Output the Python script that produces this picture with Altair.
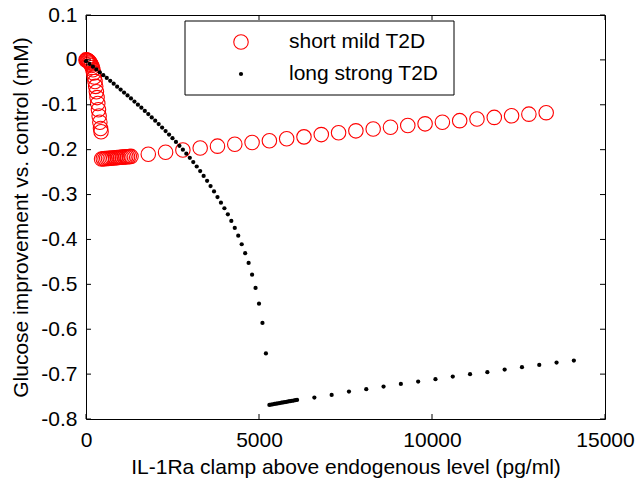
import altair as alt
import pandas as pd

# ---- data ----
red_x = [0, 20, 40, 60, 80, 100, 120, 140, 160, 180, 200, 220, 240, 260, 280, 300,
         320, 340, 360, 380, 400, 420, 435,
         450, 500, 550, 600, 650, 700, 750, 800, 850, 900, 950, 1000, 1050, 1100,
         1150, 1200, 1250, 1300,
         1800, 2300, 2800, 3300, 3800, 4300, 4800, 5300, 5800, 6300, 6800, 7300,
         7800, 8300, 8800, 9300, 9800, 10300, 10800, 11300, 11800, 12300, 12800, 13300]
red_y = [0.000, -0.0005, -0.001, -0.002, -0.003, -0.005, -0.007, -0.0095, -0.0125,
         -0.017, -0.022, -0.029, -0.038, -0.048, -0.059, -0.071, -0.084, -0.097,
         -0.111, -0.125, -0.139, -0.153, -0.160,
         -0.2207, -0.2204, -0.2200, -0.2197, -0.2194, -0.2190, -0.2187, -0.2184,
         -0.2180, -0.2177, -0.2174, -0.2170, -0.2167, -0.2164, -0.2160, -0.2157,
         -0.2154, -0.2150,
         -0.2102, -0.2056, -0.2009, -0.1964, -0.1922, -0.1880, -0.1840, -0.1800,
         -0.1757, -0.1715, -0.1664, -0.1624, -0.1581, -0.1541, -0.1501, -0.1461,
         -0.1425, -0.1390, -0.1354, -0.1316, -0.1281, -0.1245, -0.1209, -0.1176]

black_x = [0, 100, 200, 300, 400, 500, 600, 700, 800, 900, 1000, 1100, 1200, 1300,
           1400, 1500, 1600, 1700, 1800, 1900, 2000, 2100, 2200, 2300, 2400, 2500,
           2600, 2700, 2800, 2900, 3000, 3100, 3200, 3300, 3400, 3500, 3600, 3700,
           3800, 3900, 4000, 4100, 4200, 4300, 4400, 4500, 4600, 4700, 4800, 4900,
           5000, 5100, 5200,
           5300, 5350, 5400, 5450, 5500, 5550, 5600, 5650, 5700, 5750, 5800, 5850,
           5900, 5950, 6000, 6050, 6100,
           6600, 7100, 7600, 8100, 8600, 9100, 9600, 10100, 10600, 11100, 11600,
           12100, 12600, 13100, 13600, 14100]
black_y = [-0.003, -0.009, -0.0152, -0.0214, -0.0277, -0.034, -0.0403, -0.0467,
           -0.0531, -0.0596, -0.0661, -0.0727, -0.0793, -0.086, -0.0928, -0.0997,
           -0.1066, -0.1136, -0.1208, -0.1281, -0.1355, -0.143, -0.1507, -0.1585,
           -0.1664, -0.1745, -0.1828, -0.1913, -0.2000, -0.209, -0.2182, -0.2277,
           -0.2375, -0.2476, -0.2585, -0.2695, -0.281, -0.293, -0.3055, -0.318,
           -0.3305, -0.3439, -0.3588, -0.3744, -0.3915, -0.4107, -0.4307, -0.4523,
           -0.4784, -0.508, -0.543, -0.586, -0.654,
           -0.7686, -0.7679, -0.7672, -0.7665, -0.7658, -0.7651, -0.7644, -0.7637,
           -0.7630, -0.7623, -0.7616, -0.7610, -0.7603, -0.7596, -0.7589, -0.7582,
           -0.7575,
           -0.7523, -0.7463, -0.739, -0.7336, -0.7278, -0.7218, -0.7167, -0.7114,
           -0.7056, -0.7002, -0.6957, -0.69, -0.6846, -0.6795, -0.6744, -0.6699]

x_ticks = [0, 5000, 10000, 15000]
y_ticks = [-0.8, -0.7, -0.6, -0.5, -0.4, -0.3, -0.2, -0.1, 0, 0.1]
series_names = ["short mild T2D", "long strong T2D"]

# ---- chart ----
W, H = 519, 404
FONT = "Liberation Sans"
FS = 21

red_df = pd.DataFrame({"x": red_x, "y": red_y})
black_df = pd.DataFrame({"x": black_x, "y": black_y})
xt_df = pd.DataFrame({"x": x_ticks})
yt_df = pd.DataFrame({"y": y_ticks})
one = pd.DataFrame({"a": [0]})

xscale = alt.Scale(domain=[0, 15000], nice=False, zero=False)
yscale = alt.Scale(domain=[-0.8, 0.1], nice=False, zero=False)

xaxis = alt.Axis(values=x_ticks, format="d", title="IL-1Ra clamp above endogenous level (pg/ml)",
                 domain=False, ticks=False, grid=False, labelPadding=10, labelFlush=False,
                 labelOverlap=False,
                 labelFont=FONT, labelFontSize=FS, labelColor="black",
                 titleFont=FONT, titleFontSize=FS, titleFontWeight="normal", titleColor="black",
                 titleX=W / 2, titleY=48, titleBaseline="middle", titleAlign="center")
yaxis = alt.Axis(values=y_ticks, title="Glucose improvement vs. control (mM)",
                 labelExpr="datum.value == 0 ? '0' : (datum.value < 0 ? '-' + format(-datum.value, '.1f') : format(datum.value, '.1f'))",
                 domain=False, ticks=False, grid=False, labelPadding=9, labelFlush=False,
                 labelOverlap=False,
                 labelFont=FONT, labelFontSize=FS, labelColor="black",
                 titleFont=FONT, titleFontSize=FS, titleFontWeight="normal", titleColor="black",
                 titleX=-65, titleY=H / 2, titleAngle=270, titleBaseline="middle",
                 titleAlign="center")

X = alt.X("x:Q", scale=xscale, axis=xaxis)
Y = alt.Y("y:Q", scale=yscale, axis=yaxis)

red = alt.Chart(red_df).mark_point(shape="circle", filled=False, color="#ff0000",
                                   size=210, strokeWidth=1.1, opacity=1).encode(x=X, y=Y)
black = alt.Chart(black_df).mark_circle(color="black", size=18, opacity=1).encode(x=X, y=Y)

xt_bottom = alt.Chart(xt_df).mark_rule(color="black", strokeWidth=1).encode(
    x=X, y=alt.value(H), y2=alt.value(H - 5))
xt_top = alt.Chart(xt_df).mark_rule(color="black", strokeWidth=1).encode(
    x=X, y=alt.value(0), y2=alt.value(5))
yt_left = alt.Chart(yt_df).mark_rule(color="black", strokeWidth=1).encode(
    y=Y, x=alt.value(0), x2=alt.value(5))
yt_right = alt.Chart(yt_df).mark_rule(color="black", strokeWidth=1).encode(
    y=Y, x=alt.value(W), x2=alt.value(W - 5))

# legend box
leg_box = alt.Chart(one).mark_rect(fill="white", stroke="black", strokeWidth=1).encode(
    x=alt.value(99), x2=alt.value(368), y=alt.value(6), y2=alt.value(80))
leg_red = alt.Chart(one).mark_point(shape="circle", filled=False, color="#ff0000",
                                    size=210, strokeWidth=1.1, opacity=1).encode(
    x=alt.value(155), y=alt.value(27))
leg_black = alt.Chart(one).mark_circle(color="black", size=18, opacity=1).encode(
    x=alt.value(155), y=alt.value(59))
leg_t1 = alt.Chart(one).mark_text(align="left", baseline="middle", font=FONT, fontSize=FS,
                                  color="black").encode(
    x=alt.value(203), y=alt.value(27), text=alt.value(series_names[0]))
leg_t2 = alt.Chart(one).mark_text(align="left", baseline="middle", font=FONT, fontSize=FS,
                                  color="black").encode(
    x=alt.value(203), y=alt.value(59), text=alt.value(series_names[1]))

chart = alt.layer(
    red, black, xt_bottom, xt_top, yt_left, yt_right,
    leg_box, leg_red, leg_black, leg_t1, leg_t2
).properties(
    width=W, height=H,
    padding={"left": 86, "top": 15, "right": 32, "bottom": 63},
    autosize=alt.AutoSizeParams(type="none"),
    background="white",
).configure_view(stroke="black", strokeWidth=1)

chart.save("out.html", embed_options={"renderer": "svg", "actions": False})
